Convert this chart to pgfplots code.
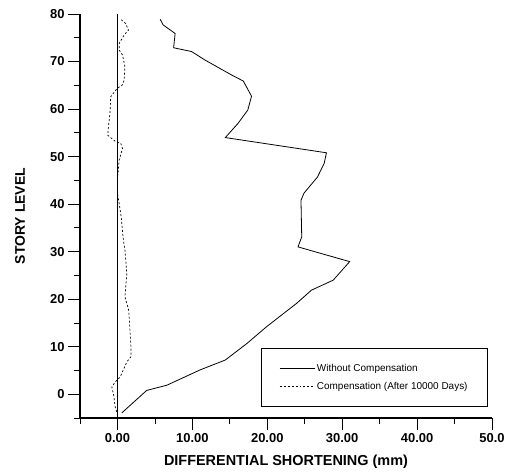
\documentclass[border=0pt]{standalone}
\usepackage{fontspec}
\setmainfont{Liberation Sans}
\usepackage{pgfplots}
\pgfplotsset{compat=1.18}

\begin{document}
\begin{tikzpicture}
\begin{axis}[
    scale only axis,
    width=412bp, height=404bp,
    at={(0,0)}, anchor=south west,
    clip=false,
    axis lines=left,
    axis line style={-, line width=1.1pt},
    xmin=-5, xmax=50, ymin=-5, ymax=80,
    xtick={0,10,20,30,40,50},
    xticklabels={0.00,10.00,20.00,30.00,40.00,50.0},
    minor xtick={-5,5,15,25,35,45},
    ytick={0,10,...,80},
    minor ytick={-5,5,...,75},
    tick align=outside,
    major tick length=12bp,
    minor tick length=6bp,
    tick style={black, line width=0.8pt},
    /pgf/number format/assume math mode=true,
    tick label style={font=\fontsize{13}{15}\selectfont\bfseries},
    xlabel={DIFFERENTIAL SHORTENING (mm)},
    ylabel={STORY LEVEL},
    every axis x label/.style={at={(axis description cs:0.5,-0.109)}, anchor=center,
        font=\fontsize{14.5}{16}\selectfont\bfseries},
    every axis y label/.style={at={(axis description cs:-0.1456,0.5)}, anchor=center, rotate=90,
        font=\fontsize{14}{16}\selectfont\bfseries},
    legend style={at={(axis description cs:0.990,0.027)}, anchor=south east,
        draw=black, line width=0.6pt,
        font=\fontsize{10}{12}\selectfont,
        inner xsep=18bp, inner ysep=14bp, row sep=5bp},
    legend cell align=left,
    legend image code/.code={\draw[#1] (0bp,0bp) -- (35bp,0bp);},
]
% reference line at zero
\addplot [black, line width=0.8pt, forget plot] coordinates {(0,-5) (0,80)};

% without compensation
\addplot [black, line width=0.8pt] coordinates {
    (0.6,-3.9) (3.9,0.8) (6.6,1.9) (11.0,5.1) (14.4,7.2) (17.3,10.7)
    (19.9,14.2) (23.9,19.1) (25.9,21.9) (28.8,24.0) (31.0,27.9)
    (24.1,31.0) (24.6,33.1) (24.5,40.8) (24.9,42.3) (26.7,45.7)
    (27.6,48.6) (27.9,50.8) (14.4,54.0) (16.1,57.0) (17.4,59.8)
    (17.9,62.7) (16.8,65.9) (15.2,67.2) (11.7,70.3) (9.9,72.1)
    (7.5,72.9) (7.7,75.9) (6.1,77.7) (5.7,78.9)
};
\addlegendentry{Without Compensation}

% compensation after 10000 days
\addplot [black, line width=0.7pt, dash pattern=on 2pt off 2pt] coordinates {
    (-0.1,-3.7) (-0.3,-2.7) (-0.5,-0.2) (-0.75,1.5) (-0.3,2.6) (0.36,3.6)
    (1.25,6.8) (1.8,7.9) (1.8,10.0) (1.5,17.7) (1.0,20.5) (1.25,25.4)
    (1.0,30.3) (0.8,32.4) (0.7,33.8) (0.5,37.3) (0.23,40.1) (0.0,42.3)
    (0.0,45.1) (0.23,49.3) (0.67,51.7) (0.44,52.8) (-0.2,53.1) (-1.3,54.5)
    (-1.2,56.3) (-1.0,59.1) (-0.9,62.6) (0.0,64.4) (0.67,65.1) (0.9,66.1)
    (1.0,68.9) (0.67,71.4) (0.23,72.4) (0.23,73.8) (0.9,75.6) (1.47,76.6)
    (1.1,78.0) (0.44,78.9)
};
\addlegendentry{Compensation (After 10000 Days)}
\end{axis}
\pgfresetboundingbox
\useasboundingbox (-80bp,-57bp) rectangle (430bp,418bp);
\end{tikzpicture}
\end{document}
